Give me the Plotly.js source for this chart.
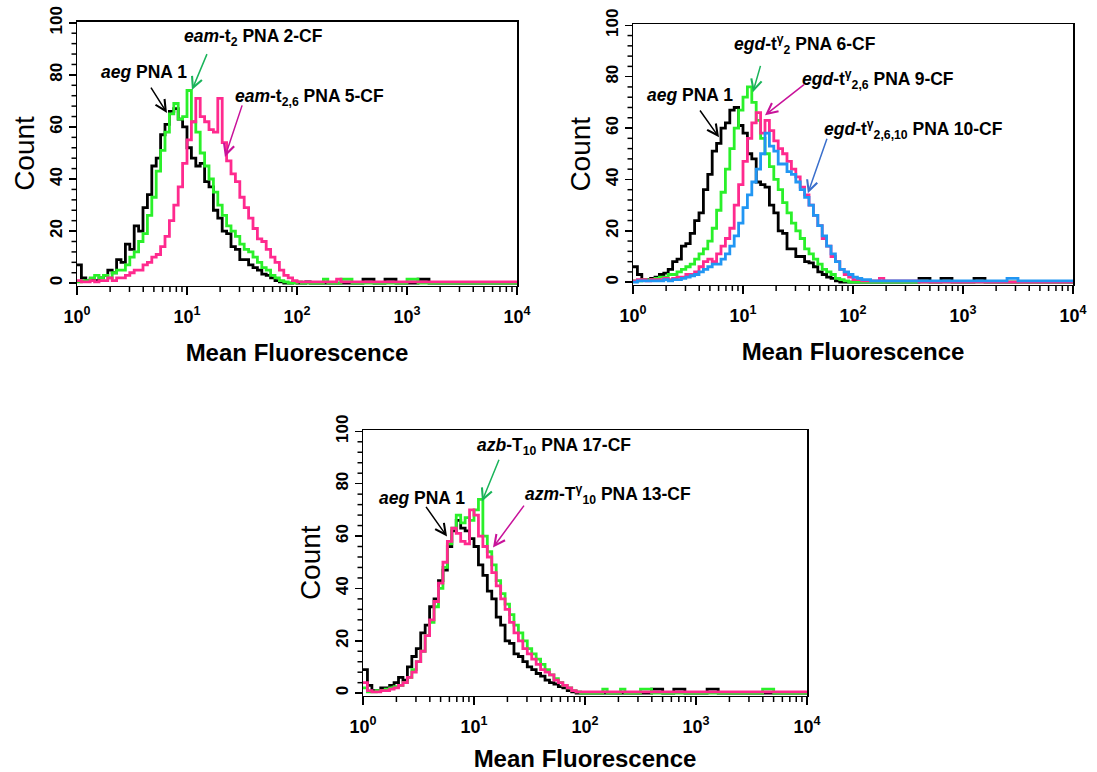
<!DOCTYPE html>
<html>
<head>
<meta charset="utf-8">
<script src="https://cdn.plot.ly/plotly-3.0.1.min.js"></script>
<style>html,body{margin:0;padding:0;background:#fff;}#chart{width:1097px;height:772px;}</style>
</head>
<body>
<div id="chart"></div>
<script>
// channel positions (log10 of fluorescence) shared by every histogram
const channelExp = [0,0.04,0.08,0.12,0.16,0.2,0.24,0.28,0.32,0.36,0.4,0.44,0.48,0.52,0.56,0.6,0.64,0.68,0.72,0.76,0.8,0.84,0.88,0.92,0.96,1,1.04,1.08,1.12,1.16,1.2,1.24,1.28,1.32,1.36,1.4,1.44,1.48,1.52,1.56,1.6,1.64,1.68,1.72,1.76,1.8,1.84,1.88,1.92,1.96,2,2.04,2.08,2.12,2.16,2.2,2.24,2.28,2.32,2.36,2.4,2.5,2.6,2.7,2.8,2.9,3,3.1,3.2,3.3,3.4,3.5,3.6,3.7,3.8,3.9,4];

// Panel 1 counts
const p1Aeg   = [7,2,1,1.5,1,2,3,5,4,9, 8,15,13,22,20,29,34,45,48,57, 61,66,67,63,60,52,48,45,46,39, 37,28,25,20,19,14,13,9,9,7, 6,5,3.5,3,2,1,0.5,0,0,0.5, 0,0,0.5,0,0,0,0,0,0,0, 0, 0,1.5,0,1.5,0,0,1.5,0,0,0,0,0,0,0,0,0];
const p1Eam2  = [0.5,1,1,2,3,2,3,2,4,5, 5,7,10,12,16,19,26,33,43,51, 58,65,69,63,64,74,62,58,50,45, 40,35,30,26,22,20,18,15,13,12, 10,8,6,5,3,2,1,0.5,0,0, 0.5,0,0,0,0,0,1.5,0,0,0, 1.5, 0,0,0,0,0,1.5,0,0,0,0,0,0,0,0,0,0];
const p1Eam26 = [1,0.5,0.5,1,0.5,1,1,2,1,2, 2,3,4,5,5,7,8,10,11,14, 18,24,30,37,46,55,62,71,64,62, 59,58,71,54,47,42,39,33,29,25, 21,17,16,13,10,8,5,3,2,1, 0.5,0.5,0.5,0.5,0.5,0.5,0.5,0.5,0.5,1.5, 0.5, 0.5,0.5,0.5,0.5,0.5,0.5,0.5,0.5,0.5,0.5,0.5,0.5,0.5,0.5,0.5,0.5];

// Panel 2 counts
const p2Aeg     = [6,3,1,1,1.5,2,3,3.5,5,8, 9,14,15,19,24,27,36,42,51,54, 60,62,67,68,61,58,50,48,39,38, 37,30,27,20,19,13,13,10,10,8, 7.5,6,4,3,2,1.5,0.5,0,0,0, 0,0,0,0,0,0,0,0,0,0, 0, 0,1.5,0,1.5,0,0,1.5,0,0,0,0,0,0,0,0,0];
const p2Egd2    = [0.5,0.5,1,1,1,1.5,2,2,3,3, 4,5,6,7,9,11,13,16,21,28, 35,44,52,60,67,72,76,70,63,56, 50,45,40,36,31,27,23,20,17,13, 11,9,7,5,4,3,1.5,1,0.5,0, 0,0,0,0,0,0,0,0,0,0, 0, 0,0,0,0,0,0,0,0,0,0,0,0,0,0,0,0];
const p2Egd26   = [0.5,1,1,0.5,1,1,1,1.5,1,1.5, 2,2,3,3,4,6,8,9,8,11, 14,17,21,30,38,47,56,62,66,58, 63,59,55,52,50,47,44,41,37,34, 30,26,22,17,14,10,8,5,3,2, 1,1,0.5,0.5,0.5,0.5,1.5,0.5,0.5,0.5, 0.5, 0.5,0,0,0,0,0,0,0,0,0,0,0,0,0,0,0];
const p2Egd2610 = [0,0.5,0.5,0.5,0.5,0.5,0.5,1,0.5,1, 1,1.5,2,2.5,3,4,5,6,7,7, 9,11,14,18,23,29,34,39,44,50, 58,53,51,46,46,43,42,39,36,33, 30,26,22,18,14,11,8,5,4,3, 2,1.5,1,1,0.5,0.5,0.5,0.5,0.5,0.5, 0.5, 0.5,0.5,0.5,0.5,0.5,0.5,0.5,0.5,0.5,1.5,0.5,0.5,0.5,0.5,0.5,0.5];

// Panel 3 counts
const p3Aeg  = [9,3,1,1,2,2,3,4,6,5, 10,14,17,23,26,33,36,43,47,56, 62,66,63,62,59,56,49,45,39,36, 29,26,20,19,15,14,12,10,9,7.5, 6.5,5,4,3.5,2.5,2,1,0.5,0,0, 0,0,0,0,0,0,0,0,0,0, 0, 0,1.5,0,1.5,0,0,1.5,0,0,0,0,0,0,0,0,0];
const p3Azb  = [2,0.5,0.5,1,1,1.5,2,2.5,3,4, 6,9,12,16,22,27,33,40,48,57, 63,68,65,67,66,70,74,60,54,49, 43,38,34,30,26,23,20,17,15,13, 11,9,7,5.5,4,3,2,1,0.5,0, 0,0,0,0,1.5,0,0,0,1.5,0, 0, 1.5,0,0,0,0,0,0,0,0,0,0,1.5,0,0,0,0];
const p3Azm  = [4,1,0.5,0.5,1,1,1.5,2,3,4, 6,8,12,16,22,28,35,42,50,58, 63,61,58,57,70,68,60,56,52,46, 41,36,32,27,23,20,17,15,13,11, 9,8,7,5,4,3,2,1,0.5,0.5, 0.5,0.5,0.5,0.5,0.5,0.5,0.5,0.5,0.5,0.5, 0.5, 0.5,0.5,0.5,0.5,0.5,0.5,0.5,0.5,0.5,0.5,0.5,0.5,0.5,0.5,0.5,0.5];

const xTickVals = [1, 10, 100, 1000, 10000];
const xTickText = ['10<sup>0</sup>', '10<sup>1</sup>', '10<sup>2</sup>', '10<sup>3</sup>', '10<sup>4</sup>'];
const yTickVals = [0, 20, 40, 60, 80, 100];
const yTickText = ['0', '20', '40', '60', '80', '100'];

// minor tick marks: digits 2..9 of every decade, and every 4 counts
const xMinor = [];
[1, 10, 100, 1000].forEach(d => { for (let k = 2; k <= 9; k++) xMinor.push(k * d); });
const yMinor = [];
for (let v = 4; v < 100; v += 4) if (v % 20 !== 0) yMinor.push(v);

const COL = {black: '#000000', green: '#2af02a', pink: '#ff2a8e', blue: '#2196f3'};
const ARROW = {black: '#000000', green: '#19b45a', pink: '#c8129a', blue: '#3a6fcc'};
const FONT = 'Liberation Sans, Arial, Helvetica, sans-serif';

const fluor = channelExp.map(e => Math.pow(10, e));
function trace(vals, color, xa, ya, name) {
  return {x: fluor, y: vals, type: 'scatter', mode: 'lines', name: name,
          line: {shape: 'hv', color: color, width: 2.8}, xaxis: xa, yaxis: ya, hoverinfo: 'skip'};
}

const data = [
  trace(p1Aeg, COL.black, 'x', 'y', 'aeg PNA 1'),
  trace(p1Eam2, COL.green, 'x', 'y', 'eam-t2 PNA 2-CF'),
  trace(p1Eam26, COL.pink, 'x', 'y', 'eam-t2,6 PNA 5-CF'),
  trace(p2Aeg, COL.black, 'x2', 'y2', 'aeg PNA 1'),
  trace(p2Egd2, COL.green, 'x2', 'y2', 'egd-tγ2 PNA 6-CF'),
  trace(p2Egd26, COL.pink, 'x2', 'y2', 'egd-tγ2,6 PNA 9-CF'),
  trace(p2Egd2610, COL.blue, 'x2', 'y2', 'egd-tγ2,6,10 PNA 10-CF'),
  trace(p3Aeg, COL.black, 'x3', 'y3', 'aeg PNA 1'),
  trace(p3Azb, COL.green, 'x3', 'y3', 'azb-T10 PNA 17-CF'),
  trace(p3Azm, COL.pink, 'x3', 'y3', 'azm-Tγ10 PNA 13-CF')
];

const W = 1097, H = 772;
const X_RANGE = [0, 4];
const Y_RANGE = [-0.9, 100.5];
function xAxis(l, r, anchor) {
  return {domain: [l / W, r / W], anchor: anchor, type: 'log', range: X_RANGE,
    tickmode: 'array', tickvals: xTickVals, ticktext: xTickText,
    ticks: 'outside', ticklen: 8, tickwidth: 1.5, tickcolor: '#000',
    showline: true, linecolor: '#000', linewidth: 1.5, mirror: true,
    showgrid: false, zeroline: false, automargin: false, fixedrange: true,
    ticklabelstandoff: 6,
    tickfont: {family: FONT, size: 18, color: '#000', weight: 'bold'},
    title: {text: 'Mean Fluorescence', standoff: 18, font: {family: FONT, size: 24, color: '#000', weight: 'bold'}}};
}
function yAxis(top, bottom, anchor) {
  return {domain: [1 - bottom / H, 1 - top / H], anchor: anchor, range: Y_RANGE,
    tickmode: 'array', tickvals: yTickVals, ticktext: yTickText, tickangle: -90,
    ticks: 'outside', ticklen: 7, tickwidth: 1.5, tickcolor: '#000',
    showline: true, linecolor: '#000', linewidth: 1.5, mirror: true,
    showgrid: false, zeroline: false, automargin: false, fixedrange: true,
    ticklabelstandoff: 0,
    tickfont: {family: FONT, size: 17, color: '#000', weight: 'bold'},
    title: {text: 'Count', standoff: 4, font: {family: FONT, size: 28, color: '#000'}}};
}

// minor tick marks: short line shapes just outside each axis line (paper coordinates, mapped through the axis scale)
const shapes = [];
function minorTicks(left, right, top, bottom) {
  const yb = 1 - (bottom + 0.5) / H, xl = (left - 0.5) / W;
  xMinor.forEach(v => {
    const px = left + (Math.log10(v) - X_RANGE[0]) / (X_RANGE[1] - X_RANGE[0]) * (right - left);
    shapes.push({type: 'line', xref: 'paper', yref: 'paper', layer: 'above', x0: px / W, x1: px / W,
      y0: yb, y1: yb - 6 / H, line: {color: '#000', width: 1.5}});
  });
  yMinor.forEach(v => {
    const py = bottom - (v - Y_RANGE[0]) / (Y_RANGE[1] - Y_RANGE[0]) * (bottom - top);
    shapes.push({type: 'line', xref: 'paper', yref: 'paper', layer: 'above', x0: xl, x1: xl - 5 / W,
      y0: 1 - py / H, y1: 1 - py / H, line: {color: '#000', width: 1.5}});
  });
}
minorTicks(77, 517, 21.5, 285.5);
minorTicks(633, 1073, 24, 284.5);
minorTicks(363, 807, 430, 695.5);

function label(text, left, midY) {
  return {xref: 'paper', yref: 'paper', x: left / W, y: 1 - midY / H, xanchor: 'left', yanchor: 'middle',
          text: text, showarrow: false, font: {family: FONT, size: 17.5, color: '#000'}};
}
function arrow(xref, yref, headLog, headCount, ax, ay, color) {
  return {xref: xref, yref: yref, x: headLog, y: headCount, ax: ax, ay: ay, showarrow: true,
          arrowhead: 5, arrowsize: 1.4, arrowwidth: 1.5, arrowcolor: color, standoff: 0, startstandoff: 0};
}

const annotations = [
  label('<b><i>aeg</i> PNA 1</b>', 99, 72),
  label('<b><i>eam</i>-t<sub>2</sub> PNA 2-CF</b>', 182, 38),
  label('<b><i>eam</i>-t<sub>2,6</sub> PNA 5-CF</b>', 233, 97),
  arrow('x', 'y', 0.818, 65.4, -19, -30, ARROW.black),
  arrow('x', 'y', 1.045, 74.2, 18, -43, ARROW.green),
  arrow('x', 'y', 1.345, 48.5, 20, -60, ARROW.pink),

  label('<b><i>aeg</i> PNA 1</b>', 645, 95),
  label('<b><i>egd</i>-t<sup>γ</sup><sub>2</sub> PNA 6-CF</b>', 732, 45),
  label('<b><i>egd</i>-t<sup>γ</sup><sub>2,6</sub> PNA 9-CF</b>', 800, 79),
  label('<b><i>egd</i>-t<sup>γ</sup><sub>2,6,10</sub> PNA 10-CF</b>', 822, 129),
  arrow('x2', 'y2', 0.782, 56.4, -22, -31, ARROW.black),
  arrow('x2', 'y2', 1.09, 73.9, 10, -35, ARROW.green),
  arrow('x2', 'y2', 1.2, 65, 42, -33, ARROW.pink),
  arrow('x2', 'y2', 1.59, 34.6, 22, -63, ARROW.blue),

  label('<b><i>aeg</i> PNA 1</b>', 377, 498),
  label('<b><i>azb</i>-T<sub>10</sub> PNA 17-CF</b>', 475, 447),
  label('<b><i>azm</i>-T<sup>γ</sup><sub>10</sub> PNA 13-CF</b>', 523, 495),
  arrow('x3', 'y3', 0.757, 59.8, -24, -34, ARROW.black),
  arrow('x3', 'y3', 1.072, 73.2, 20, -49, ARROW.green),
  arrow('x3', 'y3', 1.171, 55.6, 34, -46, ARROW.pink)
];

const layout = {
  width: W, height: H, margin: {l: 0, r: 0, t: 0, b: 0},
  paper_bgcolor: '#fff', plot_bgcolor: '#fff', showlegend: false,
  font: {family: FONT, color: '#000'},
  xaxis: xAxis(77, 517, 'y'),
  yaxis: yAxis(21.5, 285.5, 'x'),
  xaxis2: xAxis(633, 1073, 'y2'),
  yaxis2: yAxis(24, 284.5, 'x2'),
  xaxis3: xAxis(363, 807, 'y3'),
  yaxis3: yAxis(430, 695.5, 'x3'),
  shapes: shapes,
  annotations: annotations
};

Plotly.newPlot('chart', data, layout, {staticPlot: true, displayModeBar: false});
</script>
</body>
</html>
